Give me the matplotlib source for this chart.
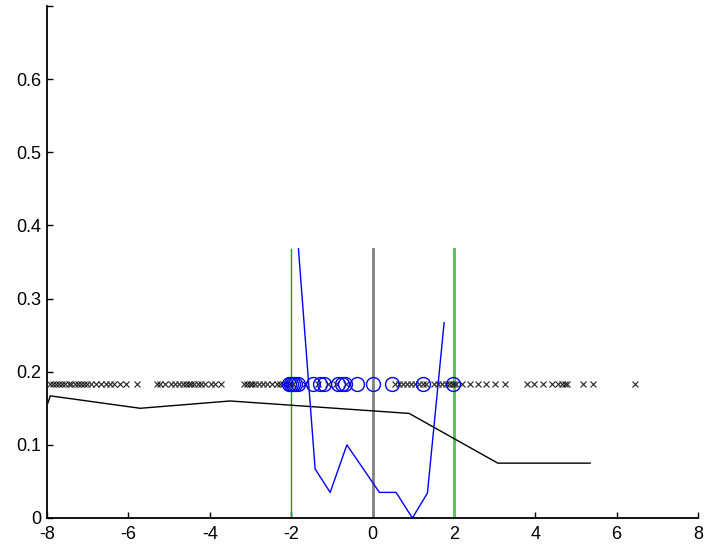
import numpy as np
import matplotlib
matplotlib.use("Agg")
import matplotlib.pyplot as plt

plt.rcParams['font.family'] = ['Liberation Sans', 'DejaVu Sans']

# sample positions (all drawn on the same horizontal level)
sample_level = 0.183
samples_x = [
    -7.92, -7.85, -7.78, -7.7, -7.62, -7.55, -7.47, -7.4, -7.32, -7.25, -7.17,
    -7.1, -7.02, -6.92, -6.8, -6.68, -6.55, -6.45, -6.35, -6.2, -6.05, -5.78,
    -5.3, -5.22, -5.1, -4.95, -4.85, -4.75, -4.65, -4.58, -4.5, -4.45, -4.38,
    -4.3, -4.22, -4.12, -3.98, -3.88, -3.72,
    -3.15, -3.08, -3.02, -2.96, -2.9, -2.8, -2.7, -2.6, -2.48,
    -2.35, -2.28, -2.2, -2.12, -2.06, -2.0, -1.95,
    -1.65, -1.35, -1.1, -0.9, -0.65,
    0.55, 0.65, 0.75, 0.85, 0.95, 1.05, 1.15, 1.25, 1.32,
    1.5, 1.6, 1.7, 1.8, 1.88, 1.95, 2.0, 2.05,
    2.2, 2.4, 2.6, 2.8, 3.0, 3.26,
    3.8, 3.98, 4.2, 4.4, 4.55, 4.65, 4.72, 4.78,
    5.17, 5.42, 6.45,
]

# selected samples
selected_x = [-2.05, -2.0, -1.95, -1.9, -1.82, -1.46, -1.29, -1.2,
              -0.85, -0.75, -0.68, -0.38, 0.0, 0.47, 1.24, 1.98]

# boundary markers
boundary_x = [-2.0, 0.0, 2.0]
boundary_colors = ['#1a9a1a', '#808080', '#5ec45e']
boundary_widths = [1.0, 2.0, 2.2]
boundary_top = 0.368

# blue curve
curve_x = [-1.82, -1.41, -1.04, -0.63, 0.17, 0.58, 0.98, 1.35, 1.76]
curve_y = [0.368, 0.067, 0.035, 0.100, 0.035, 0.035, 0.0, 0.034, 0.267]

# black curve
trend_x = [-7.98, -7.92, -5.71, -3.5, 0.9, 3.08, 5.35]
trend_y = [0.157, 0.167, 0.150, 0.160, 0.143, 0.075, 0.075]

x_ticks = [-8, -6, -4, -2, 0, 2, 4, 6, 8]
y_ticks = [0, 0.1, 0.2, 0.3, 0.4, 0.5, 0.6, 0.7]
y_labels = ['0', '0.1', '0.2', '0.3', '0.4', '0.5', '0.6', '']

fig = plt.figure(figsize=(7.05, 5.5), dpi=100)
ax = fig.add_axes([47 / 705, 32 / 550, 651 / 705, 512 / 550])

for bx, bc, bw in zip(boundary_x, boundary_colors, boundary_widths):
    ax.plot([bx, bx], [0, boundary_top], color=bc, lw=bw, zorder=2)

ax.plot(trend_x, trend_y, color='black', lw=1.0, zorder=3)
ax.plot(curve_x, curve_y, color='#0000ff', lw=1.0, zorder=3)

ax.plot(samples_x, [sample_level] * len(samples_x), linestyle='none',
        marker='x', color='#222222', markersize=5, markeredgewidth=0.8, zorder=4)
ax.plot(selected_x, [sample_level] * len(selected_x), linestyle='none',
        marker='o', markerfacecolor='none', markeredgecolor='#0000ff',
        markersize=10, markeredgewidth=1.0, zorder=5)

ax.set_xlim(-8, 8)
ax.set_ylim(0, 0.7)
ax.set_xticks(x_ticks)
ax.set_xticklabels([str(t) for t in x_ticks])
ax.set_yticks(y_ticks)
ax.set_yticklabels(y_labels)

for side in ('top', 'right'):
    ax.spines[side].set_visible(False)
for side in ('left', 'bottom'):
    ax.spines[side].set_linewidth(1.3)

ax.tick_params(direction='in', length=4, width=1.0, labelsize=13)
ax.tick_params(axis='x', pad=6)
ax.tick_params(axis='y', pad=4)

fig.savefig('out.png', dpi=100)
